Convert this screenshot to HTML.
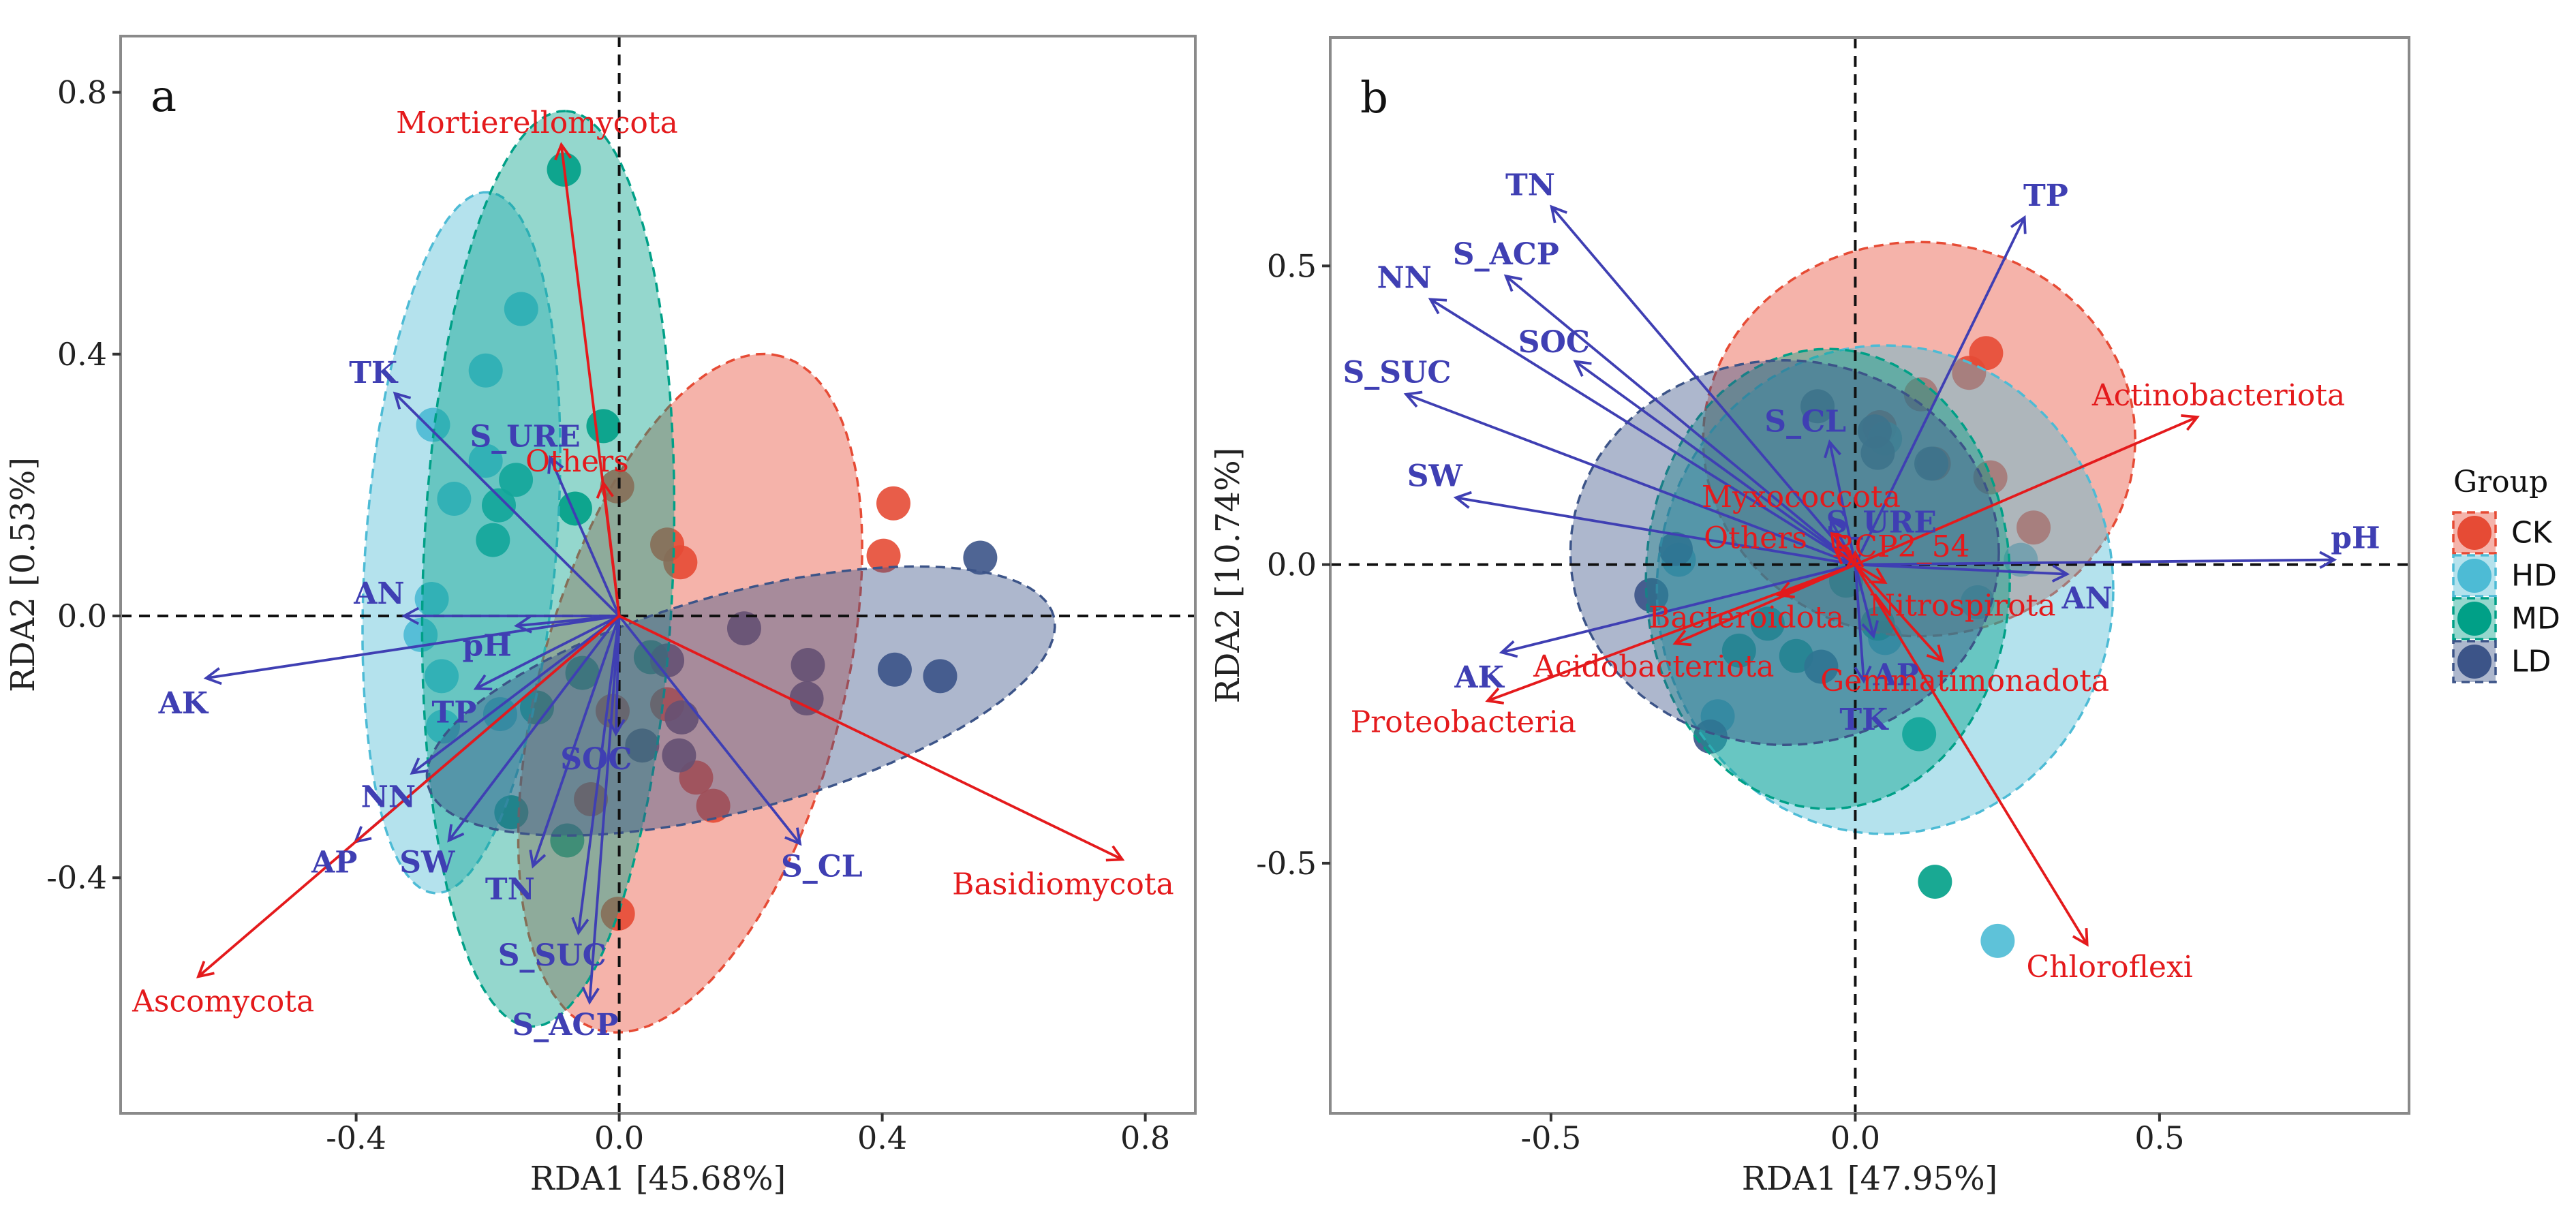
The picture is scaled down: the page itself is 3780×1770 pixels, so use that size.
<!DOCTYPE html>
<html><head><meta charset="utf-8"><title>RDA plots</title>
<style>html,body{margin:0;padding:0;background:#fff}svg{display:block}</style></head>
<body>
<svg id="fig" xmlns="http://www.w3.org/2000/svg" width="3780" height="1770" viewBox="0 0 3780 1770" font-family="'DejaVu Serif','Liberation Serif',serif">
<defs>
<clipPath id="clipA"><rect x="177" y="53" width="1577" height="1581"/></clipPath>
<clipPath id="clipB"><rect x="1952" y="55" width="1583" height="1579"/></clipPath>
</defs>
<g id="panelA"></g>
<g id="panelB"></g>
<g id="legend"></g>
</svg>
<script>
// ---------- Panel a data ----------
const aCK = [[0.417,0.172],[0.402,0.092],[0.073,0.109],[0.093,0.082],[-0.003,0.198],[-0.002,-0.455],[0.143,-0.29],[0.117,-0.247],[0.073,-0.135],[-0.043,-0.28],[-0.01,-0.145]];
const aHD = [[-0.149,0.469],[-0.203,0.375],[-0.283,0.292],[-0.203,0.237],[-0.251,0.179],[-0.285,0.026],[-0.302,-0.029],[-0.27,-0.092],[-0.268,-0.169],[-0.181,-0.15]];
const aMD = [[-0.084,0.682],[-0.024,0.29],[-0.157,0.208],[-0.183,0.169],[-0.192,0.116],[-0.067,0.164],[-0.056,-0.087],[-0.125,-0.14],[-0.164,-0.3],[-0.079,-0.343],[0.048,-0.063]];
const aLD = [[0.549,0.089],[0.419,-0.082],[0.488,-0.092],[0.19,-0.019],[0.287,-0.075],[0.285,-0.126],[0.091,-0.213],[0.035,-0.198],[0.095,-0.155],[0.073,-0.068]];
const aEnvNames = ["TK","S_URE","AN","pH","AK","TP","NN","AP","SW","TN","SOC","S_SUC","S_ACP","S_CL"];
const aEnvX = [-0.341,-0.105,-0.327,-0.156,-0.628,-0.218,-0.315,-0.401,-0.259,-0.131,-0.005,-0.062,-0.045,0.275];
const aEnvY = [0.34,0.242,0,-0.015,-0.095,-0.111,-0.24,-0.345,-0.343,-0.382,-0.18,-0.484,-0.59,-0.348];
const aEnvLX = [-0.374,-0.143,-0.365,-0.201,-0.663,-0.251,-0.351,-0.433,-0.292,-0.166,-0.035,-0.102,-0.082,0.308];
const aEnvLY = [0.371,0.274,0.034,-0.046,-0.134,-0.148,-0.277,-0.377,-0.377,-0.418,-0.219,-0.519,-0.625,-0.383];
const aSpNames = ["Mortierellomycota","Others","Ascomycota","Basidiomycota"];
const aSpX = [-0.088,-0.024,-0.64,0.765];
const aSpY = [0.72,0.203,-0.551,-0.372];
const aSpLX = [-0.125,-0.064,-0.602,0.675];
const aSpLY = [0.753,0.236,-0.589,-0.41];
const aXTicks = [-0.4,0.0,0.4,0.8];
const aYTicks = [-0.4,0.0,0.4,0.8];
const aTickLabels = ["-0.4","0.0","0.4","0.8"];
// ellipses: [cx, cy, a, b, angleDeg]
const aEllCK = [0.108,-0.118,0.533,0.23,75];
const aEllHD = [-0.24,0.112,0.537,0.145,85.6];
const aEllMD = [-0.108,0.072,0.70,0.19,87.8];
const aEllLD = [0.185,-0.13,0.493,0.165,15.3];

// ---------- Panel b data ----------
const bCK = [[0.215,0.354],[0.187,0.321],[0.108,0.285],[0.129,0.169],[0.222,0.146],[0.293,0.062],[0.04,0.23]];
const bHD = [[0.234,-0.63],[0.272,0.008],[-0.226,-0.254],[0.049,0.211],[0.201,-0.063],[-0.29,0.008],[0.049,-0.123]];
const bMD = [[0.131,-0.531],[0.105,-0.284],[-0.191,-0.144],[-0.144,-0.099],[-0.097,-0.153],[0.037,-0.099],[-0.015,-0.027]];
const bLD = [[-0.335,-0.051],[-0.238,-0.288],[-0.295,0.026],[-0.062,0.265],[0.032,0.223],[0.037,0.187],[0.125,0.169],[-0.056,-0.171]];
const bEnvNames = ["TN","TP","S_ACP","NN","SOC","S_SUC","SW","S_CL","S_URE","pH","AN","AK","AP","TK"];
const bEnvX = [-0.499,0.278,-0.574,-0.698,-0.46,-0.738,-0.656,-0.042,-0.04,0.787,0.348,-0.581,0.03,0.014];
const bEnvY = [0.599,0.581,0.483,0.444,0.34,0.285,0.112,0.205,0.074,0.008,-0.016,-0.147,-0.12,-0.195];
const bEnvLX = [-0.534,0.313,-0.574,-0.741,-0.495,-0.753,-0.691,-0.082,0.043,0.822,0.381,-0.618,0.067,0.014];
const bEnvLY = [0.635,0.617,0.519,0.48,0.372,0.321,0.148,0.239,0.07,0.044,-0.057,-0.189,-0.185,-0.26];
const bSpNames = ["Actinobacteriota","Chloroflexi","Proteobacteria","Acidobacteriota","Bacteroidota","Gemmatimonadota","Nitrospirota","Myxococcota","Others","RCP2_54"];
const bSpX = [0.562,0.381,-0.604,-0.296,-0.126,0.143,0.049,-0.039,-0.033,0.0];
const bSpY = [0.247,-0.636,-0.228,-0.132,-0.051,-0.161,-0.03,0.056,0.026,0.02];
const bSpLX = [0.597,0.418,-0.644,-0.331,-0.179,0.18,0.176,-0.089,-0.164,0.075];
const bSpLY = [0.283,-0.674,-0.264,-0.171,-0.089,-0.195,-0.069,0.113,0.044,0.03];
const bXTicks = [-0.5,0.0,0.5];
const bYTicks = [-0.5,0.0,0.5];
const bTickLabels = ["-0.5","0.0","0.5"];
const bEllCK = [0.105,0.21,0.355,0.33,0];
const bEllHD = [0.049,-0.042,0.375,0.409,0];
const bEllMD = [-0.045,-0.024,0.299,0.385,0];
const bEllLD = [-0.116,0.02,0.352,0.322,0];

const groupNames = ["CK","HD","MD","LD"];
const groupColors = ["#E64B35","#4DBBD5","#00A087","#3C5488"];
const NS = "http://www.w3.org/2000/svg";
const BLUE = "#3F3FB3", RED = "#E41A1C";

function mk(tag, attrs, parent){
  const e = document.createElementNS(NS, tag);
  for (const k in attrs) e.setAttribute(k, attrs[k]);
  parent.appendChild(e); return e;
}

function drawPanel(root, P){
  const sx = v => P.x0 + v*P.kx;
  const sy = v => P.y0 - v*P.ky;
  const clip = mk('g', {'clip-path':'url(#'+P.clip+')'}, root);
  
  
  // points
  P.groups.forEach((pts, gi) => {
    pts.forEach(p => {
      const c = mk('circle', {cx:sx(p[0]), cy:sy(p[1]), r:25, fill:groupColors[gi], 'fill-opacity':0.9}, clip);
      
      
    });
  });
  // ellipses
  P.ells.forEach((E, gi) => {
    const th = E[4]*Math.PI/180, ux = Math.cos(th), uy = Math.sin(th);
    let d = '';
    for (let i = 0; i <= 120; i++){
      const t = i/120*2*Math.PI;
      const x = E[0] + E[2]*Math.cos(t)*ux - E[3]*Math.sin(t)*uy;
      const y = E[1] + E[2]*Math.cos(t)*uy + E[3]*Math.sin(t)*ux;
      d += (i ? 'L' : 'M') + sx(x).toFixed(1) + ',' + sy(y).toFixed(1);
    }
    const el = mk('path', {d:d+'Z', fill:groupColors[gi], 'fill-opacity':0.42, stroke:groupColors[gi], 'stroke-width':3.5, 'stroke-dasharray':'14 9'}, clip);
    
    
  });
  // zero lines
  const zh = mk('line', {x1:P.left, x2:P.right, y1:sy(0), y2:sy(0), stroke:'#111', 'stroke-width':4, 'stroke-dasharray':'16 11'}, clip);
  
  
  const zv = mk('line', {x1:sx(0), x2:sx(0), y1:P.top, y2:P.bottom, stroke:'#111', 'stroke-width':4, 'stroke-dasharray':'16 11'}, clip);
  
  
  // arrows
  function arrows(xs, ys, names, color, kind){
    xs.forEach((vx, i) => {
      const X = sx(vx), Y = sy(ys[i]), X0 = sx(0), Y0 = sy(0);
      const ang = Math.atan2(Y-Y0, X-X0), L = 24, sp = 0.5;
      const d = 'M'+X0+','+Y0+'L'+X+','+Y+
        'M'+(X-L*Math.cos(ang-sp))+','+(Y-L*Math.sin(ang-sp))+'L'+X+','+Y+
        'L'+(X-L*Math.cos(ang+sp))+','+(Y-L*Math.sin(ang+sp));
      const a = mk('path', {d:d, fill:'none', stroke:color, 'stroke-width':3.8}, clip);
      
      
    });
  }
  arrows(P.envX, P.envY, P.envN, BLUE, 'env');
  arrows(P.spX, P.spY, P.spN, RED, 'taxon');
  // labels
  P.envN.forEach((n, i) => {
    const t = mk('text', {x:sx(P.envLX[i]), y:sy(P.envLY[i]), 'text-anchor':'middle', 'dominant-baseline':'central', 'font-size':44, 'font-weight':'bold', fill:BLUE}, clip);
    t.textContent = n;
    
    
  });
  P.spN.forEach((n, i) => {
    const t = mk('text', {x:sx(P.spLX[i]), y:sy(P.spLY[i]), 'text-anchor':'middle', 'dominant-baseline':'central', 'font-size':44, fill:RED}, clip);
    t.textContent = n;
    
    
  });
  // frame
  const fr = mk('rect', {x:P.left, y:P.top, width:P.right-P.left, height:P.bottom-P.top, fill:'none', stroke:'#8a8a8a', 'stroke-width':4}, root);
  
  
  // ticks
  P.xt.forEach((v, i) => {
    const tk = mk('line', {x1:sx(v), x2:sx(v), y1:P.bottom, y2:P.bottom+12, stroke:'#333', 'stroke-width':4}, root);
    
    
    const t = mk('text', {x:sx(v), y:P.bottom+52, 'text-anchor':'middle', 'font-size':46, fill:'#222'}, root);
    t.textContent = P.tl[i];
    
    
  });
  P.yt.forEach((v, i) => {
    const tk = mk('line', {x1:P.left-12, x2:P.left, y1:sy(v), y2:sy(v), stroke:'#333', 'stroke-width':4}, root);
    
    
    const t = mk('text', {x:P.left-20, y:sy(v), 'text-anchor':'end', 'dominant-baseline':'central', 'font-size':46, fill:'#222'}, root);
    t.textContent = P.tl[i];
    
    
  });
  const xl = mk('text', {x:(P.left+P.right)/2, y:1746, 'text-anchor':'middle', 'font-size':48, fill:'#222'}, root);
  xl.textContent = P.xlab;
  
  
  const yl = mk('text', {x:0, y:0, 'text-anchor':'middle', 'font-size':48, fill:'#222', transform:'translate('+P.ylx+','+((P.top+P.bottom)/2)+') rotate(-90)'}, root);
  yl.textContent = P.ylab;
  
  
  const pl = mk('text', {x:P.left+44, y:P.top+110, 'font-size':64, fill:'#111'}, root);
  pl.textContent = P.tag;
  
  
}

drawPanel(document.getElementById('panelA'), {
  x0:908.6, kx:965, y0:904, ky:960.6, left:177, right:1754, top:53, bottom:1634, clip:'clipA',
  groups:[aCK,aHD,aMD,aLD], ells:[aEllCK,aEllHD,aEllMD,aEllLD],
  envX:aEnvX, envY:aEnvY, envN:aEnvNames, envLX:aEnvLX, envLY:aEnvLY,
  spX:aSpX, spY:aSpY, spN:aSpNames, spLX:aSpLX, spLY:aSpLY,
  xt:aXTicks, yt:aYTicks, tl:aTickLabels, xlab:'RDA1 [45.68%]', ylab:'RDA2 [0.53%]', ylx:50, tag:'a'
});
drawPanel(document.getElementById('panelB'), {
  x0:2722.4, kx:893, y0:828.6, ky:876.6, left:1952, right:3535, top:55, bottom:1634, clip:'clipB',
  groups:[bCK,bHD,bMD,bLD], ells:[bEllCK,bEllHD,bEllMD,bEllLD],
  envX:bEnvX, envY:bEnvY, envN:bEnvNames, envLX:bEnvLX, envLY:bEnvLY,
  spX:bSpX, spY:bSpY, spN:bSpNames, spLX:bSpLX, spLY:bSpLY,
  xt:bXTicks, yt:bYTicks, tl:bTickLabels, xlab:'RDA1 [47.95%]', ylab:'RDA2 [10.74%]', ylx:1818, tag:'b'
});

// legend
const lg = document.getElementById('legend');
const gt = mk('text', {x:3600, y:722, 'font-size':44, fill:'#111'}, lg);
gt.textContent = 'Group';


groupNames.forEach((g, i) => {
  const y = 752 + i*63;
  const k = mk('g', {}, lg);
  
  
  mk('rect', {x:3600, y:y, width:62, height:60, fill:groupColors[i], 'fill-opacity':0.42, stroke:groupColors[i], 'stroke-width':3.5, 'stroke-dasharray':'12 8'}, k);
  mk('circle', {cx:3631, cy:y+30, r:25, fill:groupColors[i]}, k);
  const t = mk('text', {x:3685, y:y+30, 'dominant-baseline':'central', 'font-size':44, 'font-family':"'DejaVu Sans','Liberation Sans',sans-serif", fill:'#111'}, k);
  t.textContent = g;
});
</script>
</body></html>
